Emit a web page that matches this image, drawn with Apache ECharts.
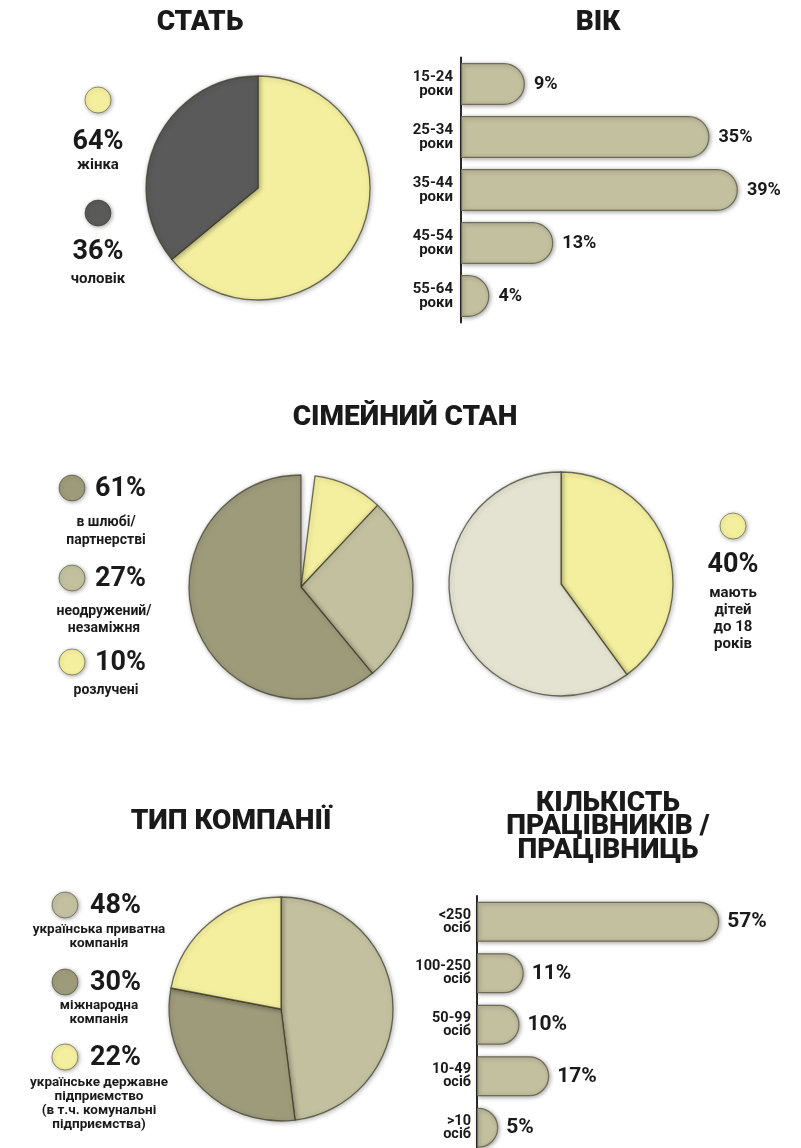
<!DOCTYPE html>
<html><head><meta charset="utf-8">
<script src="https://cdn.jsdelivr.net/npm/echarts@6/dist/echarts.min.js"></script>
<style>html,body{margin:0;padding:0;background:#fff}#c{width:801px;height:1148px}</style>
</head><body><div id="c"></div>
<script>
// ---- DATA ----
const genderNames = ['жінка', 'чоловік'];
const genderValues = [64, 36];

const ageCategories = ['15-24\nроки', '25-34\nроки', '35-44\nроки', '45-54\nроки', '55-64\nроки'];
const ageValues = [9, 35, 39, 13, 4];

const maritalNames = ['в шлюбі/\nпартнерстві', 'неодружений/\nнезаміжня', 'розлучені'];
const maritalValues = [61, 27, 10];
const maritalUnassigned = 2; // share not shown in legend (gap in pie)

const childrenNames = ['мають\nдітей\nдо 18\nроків', 'не мають'];
const childrenValues = [40, 60];

const companyNames = ['українська приватна\nкомпанія', 'міжнародна\nкомпанія', 'українське державне\nпідприємство\n(в т.ч. комунальні\nпідприємства)'];
const companyValues = [48, 30, 22];

const sizeCategories = ['<250\nосіб', '100-250\nосіб', '50-99\nосіб', '10-49\nосіб', '>10\nосіб'];
const sizeValues = [57, 11, 10, 17, 5];

const titles = ['СТАТЬ', 'ВІК', 'СІМЕЙНИЙ СТАН', 'ТИП КОМПАНІЇ', 'КІЛЬКІСТЬ\nПРАЦІВНИКІВ /\nПРАЦІВНИЦЬ'];

// ---- STYLE ----
const YELLOW = '#f4ef9e', DARKGRAY = '#5a5a5a', OLIVE = '#c3c0a0', OLIVE_DARK = '#9e9b7b', GREYLIGHT = '#e4e2d0';
const INK = '#1a1a1a';
const FONT = 'Roboto, "DejaVu Sans", sans-serif';

const sliceStyle = { borderColor: 'rgba(55,55,35,0.7)', borderWidth: 1.3, shadowBlur: 5, shadowColor: 'rgba(0,0,0,0.3)', shadowOffsetX: 1, shadowOffsetY: 1 };
function pie(center, data) {
  return { type: 'pie', center: center, radius: 112, startAngle: 90, clockwise: true, silent: true,
    label: { show: false }, labelLine: { show: false }, itemStyle: sliceStyle, data: data, animation: false };
}

function txt(x, y, text, size, weight, lh, align) {
  return { type: 'text', x: x, y: y, silent: true,
    style: { text: text, fill: INK, font: weight + ' ' + size + 'px ' + FONT, align: align || 'center', verticalAlign: 'middle', lineHeight: lh || size } };
}
function dot(x, y, r, color) {
  return { type: 'circle', shape: { cx: x, cy: y, r: r }, silent: true,
    style: { fill: color, stroke: 'rgba(50,50,30,0.5)', lineWidth: 1, shadowBlur: 4, shadowColor: 'rgba(0,0,0,0.35)', shadowOffsetX: 1, shadowOffsetY: 1 } };
}

const graphics = [
  txt(200, 23, titles[0], 28, '900'),
  txt(598, 23, titles[1], 28, '900'),
  txt(405, 418, titles[2], 28, '900'),
  txt(231, 822, titles[3], 28, '900'),
  txt(608, 827, titles[4], 28, '900', 23.5),
  // gender legend
  dot(98, 100, 13, YELLOW), txt(98, 142, genderValues[0] + '%', 27, 'bold'), txt(98, 165, genderNames[0], 15, 'bold'),
  dot(98, 213, 13, DARKGRAY), txt(98, 252, genderValues[1] + '%', 27, 'bold'), txt(98, 279, genderNames[1], 15, 'bold'),
  // marital legend
  dot(72, 488, 13, OLIVE_DARK), txt(95, 489, maritalValues[0] + '%', 27, 'bold', 27, 'left'), txt(106, 531, maritalNames[0], 14, 'bold', 18),
  dot(72, 578, 13, OLIVE), txt(95, 579, maritalValues[1] + '%', 27, 'bold', 27, 'left'), txt(104, 620, maritalNames[1], 14, 'bold', 17),
  dot(72, 662, 13, YELLOW), txt(95, 663, maritalValues[2] + '%', 27, 'bold', 27, 'left'), txt(106, 690, maritalNames[2], 14, 'bold'),
  // children legend
  dot(733, 526, 13, YELLOW), txt(733, 565, childrenValues[0] + '%', 27, 'bold'), txt(733, 619, childrenNames[0], 15, 'bold', 17),
  // company legend
  dot(65, 905, 13, OLIVE), txt(90, 906, companyValues[0] + '%', 27, 'bold', 27, 'left'), txt(99, 937, companyNames[0], 13.5, 'bold', 14),
  dot(65, 982, 13, OLIVE_DARK), txt(90, 983, companyValues[1] + '%', 27, 'bold', 27, 'left'), txt(99, 1013, companyNames[1], 13.5, 'bold', 14),
  dot(65, 1057, 13, YELLOW), txt(90, 1058, companyValues[2] + '%', 27, 'bold', 27, 'left'), txt(99, 1104, companyNames[2], 13.5, 'bold', 14)
];

const barStyle = { color: OLIVE, borderColor: '#6f6c55', borderWidth: 1.2, shadowBlur: 4, shadowColor: 'rgba(0,0,0,0.35)', shadowOffsetX: 1, shadowOffsetY: 1 };
function catAxis(gridIndex, cats, size, lh, margin) {
  return { type: 'category', gridIndex: gridIndex, data: cats, inverse: true,
    axisLine: { show: true, lineStyle: { color: '#2a2a2a', width: 2 } }, axisTick: { show: false },
    axisLabel: { color: INK, fontFamily: FONT, fontWeight: 'bold', fontSize: size, lineHeight: lh, margin: margin, align: 'right', interval: 0 } };
}

const option = {
  backgroundColor: '#ffffff',
  animation: false,
  grid: [
    { left: 461, top: 57.5, width: 319.5, height: 265, outerBoundsMode: 'none', containLabel: false },
    { left: 477, top: 896, width: 255, height: 257.5, outerBoundsMode: 'none', containLabel: false }
  ],
  xAxis: [
    { type: 'value', gridIndex: 0, min: 0, max: 45, show: false },
    { type: 'value', gridIndex: 1, min: 0, max: 60, show: false }
  ],
  yAxis: [ catAxis(0, ageCategories, 15, 14, 8), catAxis(1, sizeCategories, 14.5, 13, 6) ],
  series: [
    pie([258, 188], [
      { name: genderNames[0], value: genderValues[0], itemStyle: { color: YELLOW } },
      { name: genderNames[1], value: genderValues[1], itemStyle: { color: DARKGRAY } }
    ]),
    pie([301, 587], [
      { name: 'gap', value: maritalUnassigned, itemStyle: { color: 'rgba(0,0,0,0)', borderWidth: 0, shadowBlur: 0, shadowColor: 'rgba(0,0,0,0)' } },
      { name: maritalNames[2], value: maritalValues[2], itemStyle: { color: YELLOW } },
      { name: maritalNames[1], value: maritalValues[1], itemStyle: { color: OLIVE } },
      { name: maritalNames[0], value: maritalValues[0], itemStyle: { color: OLIVE_DARK } }
    ]),
    pie([561, 584], [
      { name: childrenNames[0], value: childrenValues[0], itemStyle: { color: YELLOW } },
      { name: childrenNames[1], value: childrenValues[1], itemStyle: { color: GREYLIGHT } }
    ]),
    pie([281, 1009], [
      { name: companyNames[0], value: companyValues[0], itemStyle: { color: OLIVE } },
      { name: companyNames[1], value: companyValues[1], itemStyle: { color: OLIVE_DARK } },
      { name: companyNames[2], value: companyValues[2], itemStyle: { color: YELLOW } }
    ]),
    { type: 'bar', xAxisIndex: 0, yAxisIndex: 0, data: ageValues, barWidth: 42, silent: true,
      itemStyle: Object.assign({ borderRadius: [0, 21, 21, 0] }, barStyle),
      label: { show: true, position: 'right', distance: 9, formatter: '{c}%', color: INK, fontFamily: FONT, fontWeight: 'bold', fontSize: 18 } },
    { type: 'bar', xAxisIndex: 1, yAxisIndex: 1, data: sizeValues, barWidth: 40, silent: true,
      itemStyle: Object.assign({ borderRadius: [0, 20, 20, 0] }, barStyle),
      label: { show: true, position: 'right', distance: 8, formatter: '{c}%', color: INK, fontFamily: FONT, fontWeight: 'bold', fontSize: 21 } }
  ],
  graphic: graphics
};

const chart = echarts.init(document.getElementById('c'), null, { renderer: 'canvas' });
chart.setOption(option);
</script>
</body></html>
